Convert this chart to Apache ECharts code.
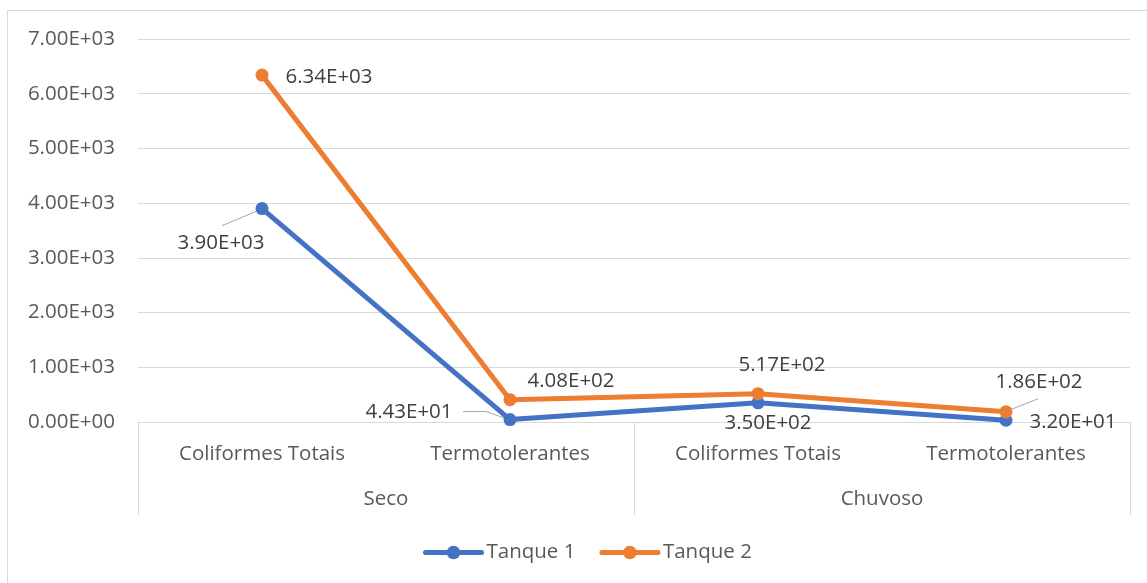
<!DOCTYPE html>
<html>
<head>
<meta charset="utf-8">
<script src="https://cdn.jsdelivr.net/npm/echarts@6/dist/echarts.min.js"></script>
<style>
html,body{margin:0;padding:0;background:#fff;}
#chart{width:1147px;height:583px;}
</style>
</head>
<body>
<div id="chart"></div>
<script>
// ---- data ----
const categories = ['Coliformes Totais', 'Termotolerantes', 'Coliformes Totais', 'Termotolerantes'];
const seasons = ['Seco', 'Chuvoso'];
const seriesNames = ['Tanque 1', 'Tanque 2'];
const tanque1 = [3900, 44.3, 350, 32];
const tanque2 = [6340, 408, 517, 186];
const yTicks = [0, 1000, 2000, 3000, 4000, 5000, 6000, 7000];

// ---- layout (label offsets from point, in px) ----
const t1Offsets = [[-41, 35], [-101, -7], [10, 20], [67, 2]];
const t2Offsets = [[67, 2], [61, -19], [24, -29], [33, -30]];
// leader-line polylines, px offsets relative to the data point (null = none)
const t1Leaders = [[[-40, 17], [-4, 2]], [[-47, -8], [-24, -8], [-4, -1]], null, null];
const t2Leaders = [null, null, null, [[32, -13], [4, -2]]];

function sci(v) {
  if (v === 0) return '0.00E+00';
  let e = Math.floor(Math.log10(Math.abs(v)));
  let ms = (v / Math.pow(10, e)).toFixed(2);
  if (ms === '10.00') { e++; ms = (v / Math.pow(10, e)).toFixed(2); }
  return ms + 'E' + (e < 0 ? '-' : '+') + String(Math.abs(e)).padStart(2, '0');
}

const FONT = 'Open Sans';
const FS = 20.5;
const TXT = '#595959';
const GRID = '#d9d9d9';

function mkSeries(name, vals, color, offsets) {
  return {
    name: name,
    type: 'line',
    data: vals,
    xAxisIndex: 0,
    symbol: 'circle',
    symbolSize: 13,
    z: 3,
    itemStyle: { color: color },
    lineStyle: { color: color, width: 5, cap: 'round', join: 'round' },
    label: {
      show: true,
      position: 'inside',
      formatter: p => sci(p.value),
      color: '#404040',
      fontFamily: FONT,
      fontSize: FS,
      align: 'center',
      verticalAlign: 'middle'
    },
    labelLayout: function (p) {
      const o = offsets[p.dataIndex];
      return { dx: o[0], dy: o[1] };
    },
    animation: false
  };
}

function leaderSeries(vals, leaders) {
  const data = [];
  const map = [];
  vals.forEach((v, i) => { if (leaders[i]) { data.push([i, v]); map.push(leaders[i]); } });
  return {
    type: 'custom',
    silent: true,
    z: 2,
    xAxisIndex: 0,
    data: data,
    renderItem: function (params, api) {
      const pt = api.coord([api.value(0), api.value(1)]);
      const pts = map[params.dataIndex].map(o => [pt[0] + o[0], pt[1] + o[1]]);
      return {
        type: 'polyline',
        shape: { points: pts },
        style: { stroke: '#a6a6a6', lineWidth: 1, fill: null }
      };
    },
    animation: false
  };
}

const chart = echarts.init(document.getElementById('chart'), null, { renderer: 'canvas' });
chart.setOption({
  backgroundColor: '#fff',
  animation: false,
  color: ['#4472C4', '#ED7D31'],
  textStyle: { fontFamily: FONT },
  graphic: [{
    type: 'rect',
    shape: { x: 7.5, y: 10.5, width: 1145, height: 578 },
    style: { fill: 'none', stroke: '#d9d9d9', lineWidth: 1 },
    silent: true
  }],
  grid: { left: 138, right: 17, top: 39, bottom: 161 },
  legend: {
    data: seriesNames,
    bottom: 15,
    left: 418,
    itemWidth: 56,
    itemHeight: 17,
    itemGap: 24,
    lineStyle: { width: 5, cap: 'round' },
    textStyle: { color: TXT, fontFamily: FONT, fontSize: FS }
  },
  xAxis: [{
    type: 'category',
    data: categories,
    position: 'bottom',
    boundaryGap: true,
    axisLine: { show: true, lineStyle: { color: GRID, width: 1 } },
    axisTick: { show: false },
    axisLabel: { interval: 0, margin: 22, color: TXT, fontFamily: FONT, fontSize: FS },
    splitLine: { show: false }
  }, {
    type: 'category',
    data: seasons,
    position: 'bottom',
    boundaryGap: true,
    axisLine: { show: false },
    axisTick: { show: true, interval: 0, length: 93, lineStyle: { color: GRID, width: 1 } },
    axisLabel: { interval: 0, margin: 67, color: TXT, fontFamily: FONT, fontSize: FS },
    splitLine: { show: false }
  }],
  yAxis: {
    type: 'value',
    min: yTicks[0],
    max: yTicks[yTicks.length - 1],
    interval: yTicks[1] - yTicks[0],
    axisLine: { show: false },
    axisTick: { show: false },
    axisLabel: { margin: 23, color: TXT, fontFamily: FONT, fontSize: FS, formatter: v => sci(v) },
    splitLine: { lineStyle: { color: GRID, width: 1 } }
  },
  series: [
    mkSeries(seriesNames[0], tanque1, '#4472C4', t1Offsets),
    mkSeries(seriesNames[1], tanque2, '#ED7D31', t2Offsets),
    leaderSeries(tanque1, t1Leaders),
    leaderSeries(tanque2, t2Leaders)
  ]
});
</script>
</body>
</html>
